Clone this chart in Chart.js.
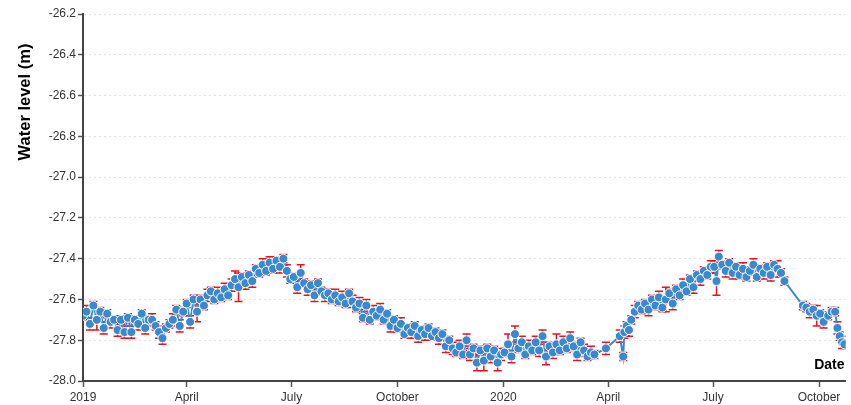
<!DOCTYPE html>
<html>
<head>
<meta charset="utf-8">
<script src="https://cdn.jsdelivr.net/npm/chart.js@4"></script>
<style>
  html, body { margin: 0; padding: 0; background: #fff; }
  canvas { display: block; }
</style>
</head>
<body>
<canvas id="chart" width="851" height="405"></canvas>
<script>
// observation dates, one line per month
const obsDates = [
  "2019-01-01","2019-01-04","2019-01-07","2019-01-10","2019-01-13","2019-01-16","2019-01-19","2019-01-22","2019-01-25","2019-01-28","2019-01-31",
  "2019-02-03","2019-02-06","2019-02-09","2019-02-12","2019-02-15","2019-02-18","2019-02-21","2019-02-24","2019-02-27",
  "2019-03-02","2019-03-05","2019-03-08","2019-03-11","2019-03-14","2019-03-17","2019-03-20","2019-03-23","2019-03-26","2019-03-29",
  "2019-04-01","2019-04-04","2019-04-07","2019-04-10","2019-04-13","2019-04-16","2019-04-19","2019-04-22","2019-04-25","2019-04-28",
  "2019-05-01","2019-05-04","2019-05-07","2019-05-10","2019-05-13","2019-05-16","2019-05-19","2019-05-22","2019-05-25","2019-05-28","2019-05-31",
  "2019-06-03","2019-06-06","2019-06-09","2019-06-12","2019-06-15","2019-06-18","2019-06-21","2019-06-24","2019-06-27","2019-06-30",
  "2019-07-03","2019-07-06","2019-07-09","2019-07-12","2019-07-15","2019-07-18","2019-07-21","2019-07-24","2019-07-27","2019-07-30",
  "2019-08-02","2019-08-05","2019-08-08","2019-08-11","2019-08-14","2019-08-17","2019-08-20","2019-08-23","2019-08-26","2019-08-29",
  "2019-09-01","2019-09-04","2019-09-07","2019-09-10","2019-09-13","2019-09-16","2019-09-19","2019-09-22","2019-09-25","2019-09-28",
  "2019-10-01","2019-10-04","2019-10-07","2019-10-10","2019-10-13","2019-10-16","2019-10-19","2019-10-22","2019-10-25","2019-10-28","2019-10-31",
  "2019-11-03","2019-11-06","2019-11-09","2019-11-12","2019-11-15","2019-11-18","2019-11-21","2019-11-24","2019-11-27","2019-11-30",
  "2019-12-03","2019-12-06","2019-12-09","2019-12-12","2019-12-15","2019-12-18","2019-12-21","2019-12-24","2019-12-27","2019-12-30",
  "2020-01-02","2020-01-05","2020-01-08","2020-01-11","2020-01-14","2020-01-17","2020-01-20","2020-01-23","2020-01-26","2020-01-29",
  "2020-02-01","2020-02-04","2020-02-07","2020-02-10","2020-02-13","2020-02-16","2020-02-19","2020-02-22","2020-02-25","2020-02-28",
  "2020-03-02","2020-03-05","2020-03-08","2020-03-11","2020-03-14","2020-03-17","2020-03-20","2020-03-30",
  "2020-04-11","2020-04-14","2020-04-15","2020-04-17","2020-04-19","2020-04-21","2020-04-24","2020-04-27","2020-04-30",
  "2020-05-03","2020-05-06","2020-05-09","2020-05-12","2020-05-15","2020-05-18","2020-05-21","2020-05-24","2020-05-27","2020-05-30",
  "2020-06-02","2020-06-05","2020-06-08","2020-06-11","2020-06-14","2020-06-17","2020-06-20","2020-06-23","2020-06-26","2020-06-29",
  "2020-07-02","2020-07-04","2020-07-06","2020-07-09","2020-07-12","2020-07-15","2020-07-18","2020-07-21","2020-07-24","2020-07-27","2020-07-30",
  "2020-08-02","2020-08-05","2020-08-08","2020-08-11","2020-08-14","2020-08-17","2020-08-20","2020-08-23","2020-08-26","2020-08-29",
  "2020-09-01","2020-09-17","2020-09-20","2020-09-23","2020-09-26","2020-09-29",
  "2020-10-02","2020-10-05","2020-10-09","2020-10-12","2020-10-15","2020-10-17","2020-10-19","2020-10-21","2020-10-23"
];

// water level (m)
const waterLevel = [
  -27.68,-27.66,-27.72,-27.63,-27.70,-27.66,-27.74,-27.67,-27.71,-27.70,-27.75,
  -27.70,-27.76,-27.69,-27.76,-27.70,-27.72,-27.67,-27.74,-27.70,
  -27.70,-27.73,-27.76,-27.79,-27.74,-27.72,-27.70,-27.65,-27.73,-27.66,
  -27.62,-27.71,-27.60,-27.66,-27.60,-27.63,-27.58,-27.56,-27.60,-27.57,
  -27.59,-27.55,-27.58,-27.53,-27.50,-27.54,-27.49,-27.52,-27.48,-27.51,-27.45,
  -27.47,-27.43,-27.46,-27.42,-27.45,-27.41,-27.44,-27.40,-27.46,-27.50,
  -27.49,-27.54,-27.47,-27.52,-27.55,-27.53,-27.58,-27.52,-27.56,-27.58,
  -27.57,-27.60,-27.58,-27.61,-27.59,-27.62,-27.57,-27.61,-27.64,-27.62,
  -27.69,-27.63,-27.70,-27.66,-27.68,-27.65,-27.70,-27.67,-27.73,-27.70,
  -27.74,-27.72,-27.77,-27.74,-27.76,-27.73,-27.78,-27.75,-27.77,-27.74,-27.78,
  -27.76,-27.79,-27.77,-27.83,-27.80,-27.84,-27.86,-27.83,-27.87,-27.80,
  -27.87,-27.84,-27.91,-27.85,-27.90,-27.84,-27.88,-27.85,-27.91,-27.87,
  -27.86,-27.82,-27.88,-27.77,-27.84,-27.81,-27.87,-27.83,-27.85,-27.81,
  -27.85,-27.78,-27.88,-27.83,-27.86,-27.82,-27.85,-27.81,-27.84,-27.79,
  -27.83,-27.87,-27.81,-27.85,-27.88,-27.86,-27.87,-27.84,
  -27.78,-27.88,-27.76,-27.73,-27.75,-27.70,-27.66,-27.63,-27.65,
  -27.62,-27.65,-27.60,-27.63,-27.59,-27.64,-27.60,-27.57,-27.62,-27.55,
  -27.58,-27.53,-27.56,-27.50,-27.54,-27.48,-27.50,-27.46,-27.48,-27.44,
  -27.44,-27.51,-27.39,-27.43,-27.46,-27.42,-27.47,-27.44,-27.48,-27.45,-27.49,
  -27.46,-27.43,-27.49,-27.45,-27.47,-27.44,-27.48,-27.43,-27.45,-27.47,
  -27.51,-27.63,-27.64,-27.66,-27.65,-27.68,
  -27.67,-27.71,-27.68,-27.66,-27.66,-27.74,-27.78,-27.81,-27.82
];

// +/- uncertainty (m)
const levelError = [
  0.02,0.03,0.03,0.02,0.05,0.02,0.03,0.02,0.03,0.02,0.03,
  0.02,0.03,0.02,0.03,0.02,0.03,0.02,0.03,0.02,
  0.03,0.02,0.03,0.03,0.02,0.02,0.03,0.02,0.03,0.02,
  0.02,0.03,0.02,0.05,0.02,0.02,0.03,0.02,0.02,0.03,
  0.02,0.03,0.02,0.03,0.04,0.07,0.02,0.03,0.02,0.03,0.02,
  0.02,0.03,0.02,0.03,0.02,0.02,0.03,0.02,0.03,0.02,
  0.02,0.03,0.04,0.02,0.03,0.02,0.03,0.02,0.02,0.03,
  0.02,0.02,0.03,0.02,0.03,0.02,0.02,0.03,0.02,0.03,
  0.02,0.03,0.02,0.03,0.02,0.03,0.02,0.02,0.03,0.02,
  0.02,0.03,0.02,0.02,0.03,0.02,0.03,0.02,0.03,0.02,0.02,
  0.02,0.03,0.02,0.03,0.02,0.03,0.02,0.03,0.02,0.03,
  0.03,0.02,0.04,0.02,0.05,0.02,0.03,0.02,0.04,0.03,
  0.02,0.05,0.03,0.04,0.02,0.03,0.02,0.03,0.02,0.03,
  0.03,0.03,0.04,0.02,0.03,0.05,0.02,0.03,0.02,0.03,
  0.02,0.03,0.02,0.03,0.02,0.03,0.02,0.03,
  0.03,0.02,0.03,0.02,0.03,0.02,0.03,0.02,0.02,
  0.02,0.03,0.02,0.02,0.03,0.02,0.06,0.02,0.03,0.02,
  0.02,0.03,0.02,0.02,0.03,0.02,0.03,0.02,0.02,0.03,
  0.03,0.07,0.03,0.02,0.03,0.02,0.03,0.02,0.02,0.03,0.02,
  0.02,0.03,0.02,0.02,0.03,0.02,0.03,0.02,0.04,0.02,
  0.02,0.02,0.02,0.03,0.02,0.05,
  0.02,0.03,0.02,0.02,0.02,0.03,0.02,0.03,0.02
];

const tickDates = ["2019-01-01","2019-04-01","2019-07-01","2019-10-01","2020-01-01","2020-04-01","2020-07-01","2020-10-01"];
const tickLabels = ["2019","April","July","October","2020","April","July","October"];
const xStart = "2019-01-01";
const xEnd = "2020-10-24";
const yTitle = "Water level (m)";
const xTitle = "Date";

const toTime = s => new Date(s + "T00:00:00Z").getTime();
const pointColor = "#3a89cf";
const errColor = "#e8141a";
const font = "'Liberation Sans', Arial, sans-serif";

const points = obsDates.map((d, i) => ({ x: toTime(d), y: waterLevel[i] }));
const tickTimes = tickDates.map(toTime);

// red error bars with caps, drawn under the points
const errorBars = {
  id: 'errorBars',
  beforeDatasetsDraw(chart) {
    const { ctx, scales: { x, y }, chartArea } = chart;
    ctx.save();
    ctx.beginPath();
    ctx.rect(chartArea.left, chartArea.top, chartArea.right - chartArea.left, chartArea.bottom - chartArea.top);
    ctx.clip();
    ctx.strokeStyle = errColor;
    ctx.lineWidth = 1.5;
    points.forEach((p, i) => {
      const px = x.getPixelForValue(p.x);
      const top = y.getPixelForValue(p.y + levelError[i]);
      const bot = y.getPixelForValue(p.y - levelError[i]);
      ctx.beginPath();
      ctx.moveTo(px, top); ctx.lineTo(px, bot);
      ctx.moveTo(px - 4, top); ctx.lineTo(px + 4, top);
      ctx.moveTo(px - 4, bot); ctx.lineTo(px + 4, bot);
      ctx.stroke();
    });
    ctx.restore();
  }
};

// axis titles placed like the original (y title near top, "Date" inside bottom right)
const axisTitles = {
  id: 'axisTitles',
  afterDraw(chart) {
    const { ctx, chartArea } = chart;
    ctx.save();
    ctx.fillStyle = '#000';
    ctx.font = "bold 16.5px " + font;
    ctx.translate(25, 102);
    ctx.rotate(-Math.PI / 2);
    ctx.textAlign = 'center';
    ctx.textBaseline = 'middle';
    ctx.fillText(yTitle, 0, 0);
    ctx.restore();

    ctx.save();
    ctx.fillStyle = '#000';
    ctx.font = "bold 14px " + font;
    ctx.textAlign = 'right';
    ctx.textBaseline = 'middle';
    ctx.fillText(xTitle, chartArea.right - 1, chartArea.bottom - 16);
    ctx.restore();
  }
};

new Chart(document.getElementById('chart'), {
  type: 'line',
  data: {
    datasets: [{
      data: points,
      borderColor: pointColor,
      borderWidth: 2,
      backgroundColor: pointColor,
      pointBackgroundColor: pointColor,
      pointBorderColor: '#fff',
      pointBorderWidth: 1,
      pointRadius: 4.5,
      tension: 0
    }]
  },
  options: {
    responsive: false,
    animation: false,
    layout: { padding: { left: 0, right: 3, top: 14, bottom: 0 } },
    plugins: { legend: { display: false }, tooltip: { enabled: false } },
    scales: {
      x: {
        type: 'linear',
        min: toTime(xStart),
        max: toTime(xEnd),
        afterBuildTicks: s => { s.ticks = tickTimes.map(v => ({ value: v })); },
        afterFit: s => { s.height = 24; },
        ticks: {
          autoSkip: false,
          maxRotation: 0,
          padding: 3,
          color: '#333',
          font: { family: font, size: 12 },
          callback: v => tickLabels[tickTimes.indexOf(v)]
        },
        grid: { drawOnChartArea: false, tickLength: 6, tickColor: '#555', tickWidth: 1.5 },
        border: { color: '#444', width: 2 }
      },
      y: {
        min: -28,
        max: -26.2,
        afterFit: s => { s.width = 83; },
        ticks: {
          stepSize: 0.2,
          padding: 2,
          color: '#333',
          font: { family: font, size: 12 },
          callback: v => v.toFixed(1)
        },
        grid: { color: '#e3e3e3', lineWidth: 1, tickLength: 5, tickColor: '#555', tickWidth: 1.5 },
        border: { color: '#444', width: 2, dash: [2, 3] }
      }
    }
  },
  plugins: [errorBars, axisTitles]
});
</script>
</body>
</html>
